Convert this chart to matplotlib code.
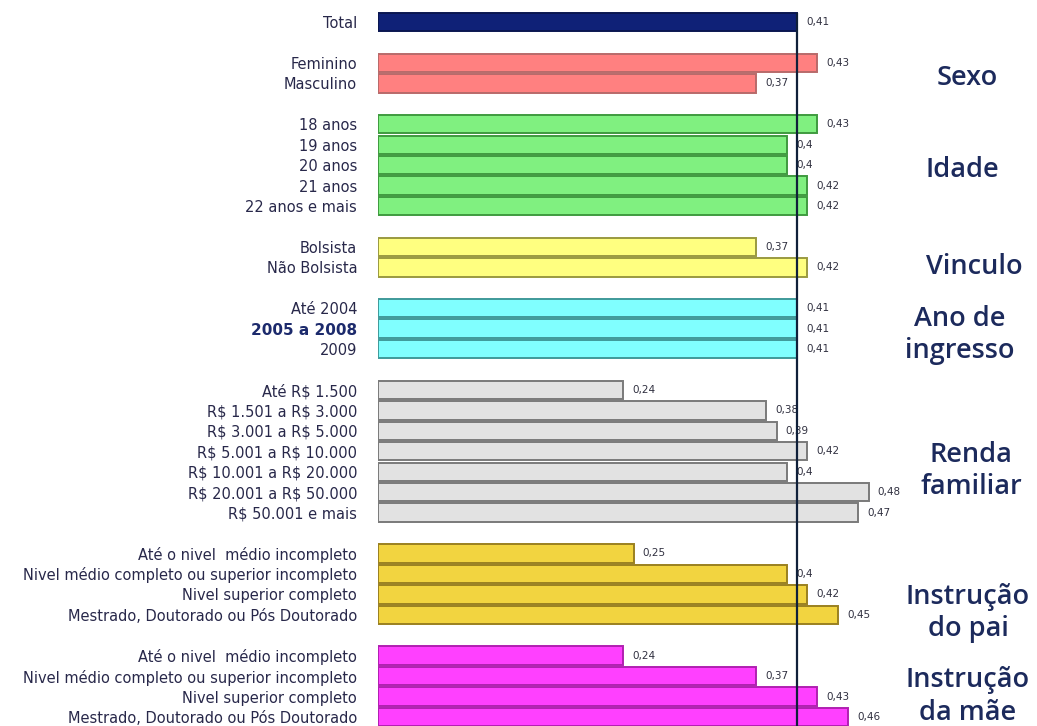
import matplotlib
matplotlib.use("Agg")
import matplotlib.pyplot as plt

# ---- data ----
total_labels = ["Total"]
total_values = [0.41]
sexo_labels = ["Feminino", "Masculino"]
sexo_values = [0.43, 0.37]
idade_labels = ["18 anos", "19 anos", "20 anos", "21 anos", "22 anos e mais"]
idade_values = [0.43, 0.40, 0.40, 0.42, 0.42]
vinculo_labels = ["Bolsista", "Não Bolsista"]
vinculo_values = [0.37, 0.42]
ano_labels = ["Até 2004", "2005 a 2008", "2009"]
ano_values = [0.41, 0.41, 0.41]
renda_labels = ["Até R$ 1.500", "R$ 1.501 a R$ 3.000", "R$ 3.001 a R$ 5.000",
                "R$ 5.001 a R$ 10.000", "R$ 10.001 a R$ 20.000",
                "R$ 20.001 a R$ 50.000", "R$ 50.001 e mais"]
renda_values = [0.24, 0.38, 0.39, 0.42, 0.40, 0.48, 0.47]
pai_labels = ["Até o nivel  médio incompleto",
              "Nivel médio completo ou superior incompleto",
              "Nivel superior completo",
              "Mestrado, Doutorado ou Pós Doutorado"]
pai_values = [0.25, 0.40, 0.42, 0.45]
mae_labels = ["Até o nivel  médio incompleto",
              "Nivel médio completo ou superior incompleto",
              "Nivel superior completo",
              "Mestrado, Doutorado ou Pós Doutorado"]
mae_values = [0.24, 0.37, 0.43, 0.46]
group_titles = ["", "Sexo", "Idade", "Vinculo", "Ano de\ningresso",
                "Renda\nfamiliar", "Instrução\ndo pai", "Instrução\nda mãe"]
reference_value = 0.41

groups = [
    (total_labels, total_values, "#0f2177", "#0a1650"),
    (sexo_labels, sexo_values, "#ff8080", "#b86a6a"),
    (idade_labels, idade_values, "#80f080", "#3f9a3f"),
    (vinculo_labels, vinculo_values, "#ffff80", "#9a9a40"),
    (ano_labels, ano_values, "#80ffff", "#3f9a9a"),
    (renda_labels, renda_values, "#e2e2e2", "#7a7a7a"),
    (pai_labels, pai_values, "#f2d440", "#9a8020"),
    (mae_labels, mae_values, "#ff40ff", "#b020b0"),
]
# layout: title offsets (rows) relative to group centre, and x (pixels)
title_dy = [0, 0.24, 0.24, 0.5, 0.3, 0.97, 1.4, 0.5]
title_xpx = [0, 967, 962, 974, 960, 971, 968, 968]

W, H = 1037, 726
fig = plt.figure(figsize=(W / 100, H / 100), dpi=100)
ax = fig.add_axes([378 / W, 0.0, 1 - 378 / W, 1.0])
px_per_unit = 1022.0

text_color = "#28284a"
title_color = "#1c2a5c"

pos = 0
ticks, ticklabels = [], []
for gi, (labels, values, fc, ec) in enumerate(groups):
    ys = list(range(pos, pos + len(labels)))
    h = 0.85 if gi == 0 else 0.9
    ax.barh(ys, values, height=h, color=fc, edgecolor=ec, linewidth=1.4, zorder=2)
    for y, v in zip(ys, values):
        s = ("%.2f" % v).rstrip("0").replace(".", ",")
        ax.text(v + 0.009, y, s, va="center", ha="left", fontsize=7.5,
                color="#303040", zorder=3)
    ticks += ys
    ticklabels += [l.replace("$", r"\$") for l in labels]
    if group_titles[gi]:
        yc = (ys[0] + ys[-1]) / 2 + title_dy[gi]
        ax.text((title_xpx[gi] - 378) / px_per_unit, yc, group_titles[gi],
                ha="center", va="center", fontsize=19.5, color=title_color,
                family="Open Sans", fontweight="semibold", linespacing=1.2)
    pos += len(labels) + 1

ax.vlines(reference_value, -0.45, 40, color="#10203a", linewidth=1.6, zorder=4)

ax.set_xlim(0, (W - 378) / px_per_unit)
ax.set_ylim(34.44, -1.08)
ax.set_yticks(ticks)
ax.set_yticklabels(ticklabels, fontsize=10.5, color=text_color)
for t in ax.get_yticklabels():
    if t.get_text() == "2005 a 2008":
        t.set_fontweight("bold")
        t.set_fontsize(11)
        t.set_color("#1c2a6c")
ax.tick_params(axis="y", length=0, pad=15)
ax.set_xticks([])
for sp in ax.spines.values():
    sp.set_visible(False)

fig.savefig("out.png", dpi=100)
